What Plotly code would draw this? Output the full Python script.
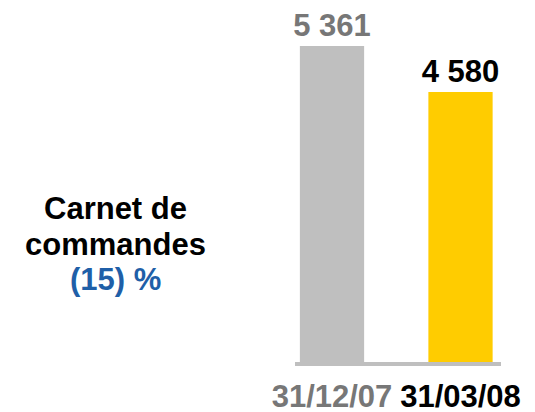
import plotly.graph_objects as go

categories = ["31/12/07", "31/03/08"]
values = [5361, 4580]
bar_colors = ["#BFBFBF", "#FFCC00"]
label_colors = ["#777777", "#000000"]
left_lines = ["Carnet de", "commandes", "(15) %"]
left_colors = ["#000000", "#000000", "#1F5FA8"]

FONT = "Arial, 'Liberation Sans', sans-serif"

OFF = 8  # default page body margin
W, H = 535 - OFF, 412 - OFF
ml, mr, mt, mb = 295 - OFF, 34, 20 - OFF, 50
pw, ph = W - ml - mr, H - mt - mb

fig = go.Figure()
fig.add_trace(go.Bar(
    x=list(range(len(categories))),
    y=values,
    marker=dict(color=bar_colors, line=dict(width=0)),
    width=0.5,
    texttemplate="%{y:,}",
    textposition="outside",
    constraintext="none",
    cliponaxis=False,
    textfont=dict(family=FONT, size=31, color=label_colors, weight="bold"),
    hoverinfo="skip",
))

ticktext = [f"<span style='color:{c}'>{t}</span>" for t, c in zip(categories, label_colors)]

x0 = -37 / 128.5
fig.update_layout(
    template="none",
    width=W, height=H,
    margin=dict(l=ml, r=mr, t=mt, b=mb, pad=0, autoexpand=False),
    paper_bgcolor="white", plot_bgcolor="white",
    separators=", ",
    showlegend=False,
    font=dict(family=FONT, size=31, color="#000000"),
    xaxis=dict(
        range=[x0, x0 + pw / 128.5],
        tickvals=list(range(len(categories))),
        ticktext=ticktext,
        tickfont=dict(family=FONT, size=31, color="#000000", weight="bold"),
        ticklabelstandoff=4,
        showline=True, linecolor="#BFBFBF", linewidth=4,
        ticks="", showgrid=False, zeroline=False, automargin=False,
        fixedrange=True,
    ),
    yaxis=dict(
        range=[0, ph / 316 * 5361],
        visible=False, showgrid=False, zeroline=False, automargin=False,
        fixedrange=True,
    ),
)

left_y = [208, 244, 279]
for txt, col, py in zip(left_lines, left_colors, left_y):
    fig.add_annotation(
        xref="paper", yref="paper",
        x=(115 - OFF - ml) / pw, y=(H - mb - (py - OFF)) / ph,
        text=f"<b>{txt}</b>", showarrow=False,
        xanchor="center", yanchor="middle",
        font=dict(family=FONT, size=31, color=col),
    )

fig.write_html("out.html")
